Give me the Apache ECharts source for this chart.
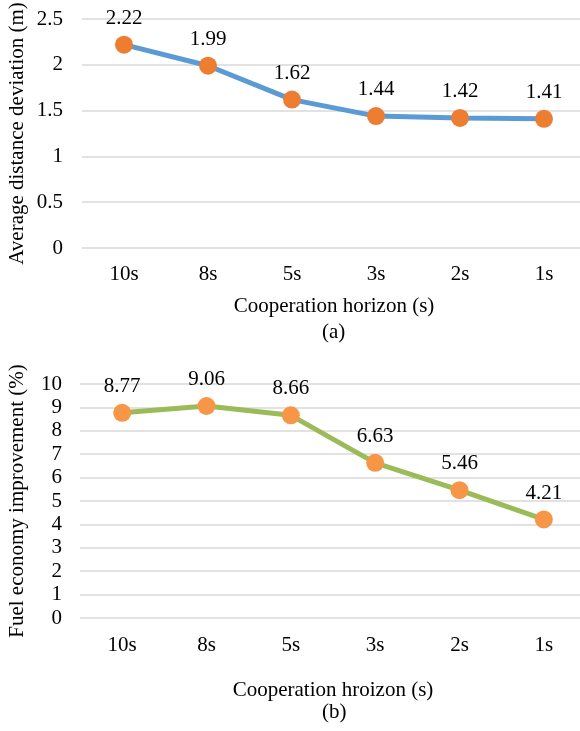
<!DOCTYPE html>
<html><head><meta charset="utf-8">
<script src="https://cdn.jsdelivr.net/npm/echarts@6/dist/echarts.min.js"></script>
<style>html,body{margin:0;padding:0;background:#fff}#c{width:580px;height:731px}</style>
</head><body><div id="c"></div>
<script>
var categories = ['10s','8s','5s','3s','2s','1s'];
var deviation = [2.22,1.99,1.62,1.44,1.42,1.41];
var fuelImprovement = [8.77,9.06,8.66,6.63,5.46,4.21];
var devTicks = {min:0,max:2.5,interval:0.5};
var fuelTicks = {min:0,max:10,interval:1};

var FONT = '"Liberation Serif","Times New Roman",serif';
var txt = {fontFamily:FONT,fontSize:21,color:'#000'};
var chart = echarts.init(document.getElementById('c'));
function xa(idx,name,gap,margin){
  return {type:'category',gridIndex:idx,data:categories,boundaryGap:true,
    axisLine:{show:false},axisTick:{show:false},
    axisLabel:Object.assign({margin:margin},txt),
    name:name,nameLocation:'middle',nameGap:gap,nameTextStyle:txt,nameMoveOverlap:false};
}
function ya(idx,t,name,gap,margin){
  return {type:'value',gridIndex:idx,min:t.min,max:t.max,interval:t.interval,
    axisLine:{show:false},axisTick:{show:false},
    axisLabel:Object.assign({margin:margin},txt),
    splitLine:{lineStyle:{color:'#d9d9d9',width:1.5}},
    name:name,nameLocation:'middle',nameGap:gap,nameTextStyle:txt,nameMoveOverlap:false};
}
function ser(idx,data,lineColor,dotColor){
  return {type:'line',xAxisIndex:idx,yAxisIndex:idx,data:data,
    symbol:'circle',symbolSize:18,
    lineStyle:{color:lineColor,width:5},
    itemStyle:{color:dotColor},
    label:{show:true,position:'top',distance:7,fontFamily:FONT,fontSize:21,color:'#000'},
    z:3};
}
chart.setOption({
  animation:false,
  grid:[{left:82,right:-6,top:19,height:229,containLabel:false,outerBoundsMode:'none'},
        {left:80,right:-6,top:384,height:234,containLabel:false,outerBoundsMode:'none'}],
  xAxis:[xa(0,'Cooperation horizon (s)',48,16),xa(1,'Cooperation hroizon (s)',62,17)],
  yAxis:[ya(0,devTicks,'Average distance deviation (m)',54,19),ya(1,fuelTicks,'Fuel economy improvement (%)',52,18)],
  series:[ser(0,deviation,'#5b9bd5','#ed7d31'),ser(1,fuelImprovement,'#9bbb59','#f79646')],
  graphic:[
    {type:'text',left:322,top:322,style:{text:'(a)',font:'21px '+FONT,fill:'#000'}},
    {type:'text',left:322,top:702,style:{text:'(b)',font:'21px '+FONT,fill:'#000'}}
  ]
});
</script></body></html>
